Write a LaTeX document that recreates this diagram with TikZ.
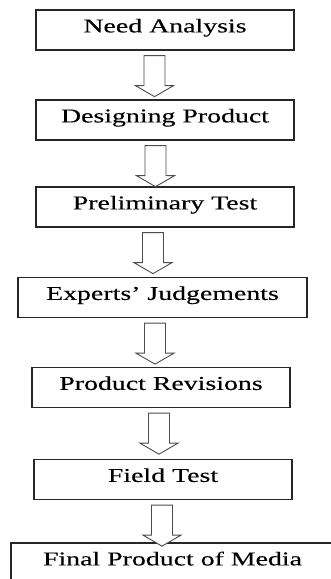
\documentclass[tikz,border=0pt]{standalone}
\usepackage{fontspec}
\setmainfont{Liberation Serif}[FakeStretch=1.42, FakeBold=0.2]
\usetikzlibrary{calc}

\begin{document}
\begin{tikzpicture}[x=1pt,y=-1pt,
	stage/.style={draw=black!85, line width=1.3pt, minimum height=40pt, inner sep=0pt,
		text height=0.7em, text depth=0.22em, font=\fontsize{19.6}{23}\selectfont},
	hollow/.style={draw=black!70, line width=0.9pt, fill=white, line join=miter}]
	\useasboundingbox (0,0) rectangle (330,579);
	%\draw (0,0) rectangle (330,579);
	\node[stage, minimum width=258pt] (need) at (165,30) {Need Analysis};
	\node[stage, minimum width=258pt] (design) at (165,120) {Designing Product};
	\node[stage, minimum width=258pt] (prelim) at (165,207) {Preliminary Test};
	\node[stage, minimum width=289pt] (experts) at (162.5,297.5) {Experts' Judgements};
	\node[stage, minimum width=258pt] (revise) at (161,387.5) {Product Revisions};
	\node[stage, minimum width=258pt] (field) at (163,479.5) {Field Test};
	\node[stage, minimum width=323pt] (final) at (172.5,563) {Final Product of Media};
	% hollow block arrows between the stages
	\foreach \a/\dx in {need/-10.5, design/-9.5, prelim/-12, experts/-7.5, revise/-2, field/-1}
		\draw[hollow] ($(\a.south)+(\dx,5)$) ++(-10.5,0) -- ++(21,0) -- ++(0,30) -- ++(8.5,0)
			-- ++(-19,11) -- ++(-19,-11) -- ++(8.5,0) -- cycle;
\end{tikzpicture}
\end{document}
